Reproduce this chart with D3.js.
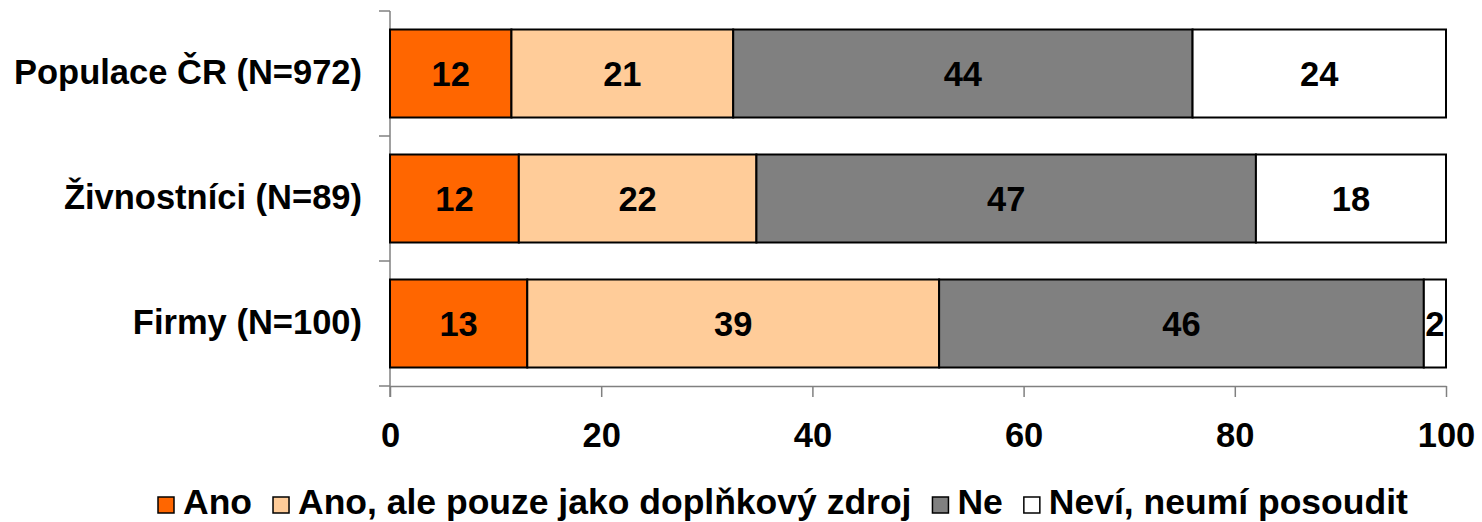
<!DOCTYPE html>
<html lang="cs">
<head>
  <meta charset="UTF-8" />
  <title>Ano / Ne</title>
  <script src="https://d3js.org/d3.v7.min.js"></script>
  <style>
    html, body {
      margin: 0;
      padding: 0;
      background: #fff;
    }
    svg text {
      font-family: "Liberation Sans", Arial, sans-serif;
      font-weight: bold;
      font-size: 34.5px;
      fill: #000;
    }
    svg text.leg {
      font-size: 35.5px;
    }
  </style>
</head>
<body>
<div id="chart"></div>
<script>
// categories (top to bottom)
const categories = ["Populace ČR (N=972)", "Živnostníci (N=89)", "Firmy (N=100)"];
const seriesNames = ["Ano", "Ano, ale pouze jako doplňkový zdroj", "Ne", "Neví, neumí posoudit"];
const seriesColors = ["#ff6600", "#ffcc99", "#808080", "#ffffff"];

// shares (%) as drawn, one array per series
const ano      = [11.5, 12.2, 13.0];
const anoAle   = [21.0, 22.5, 39.0];
const ne       = [43.5, 47.3, 45.9];
const nevi     = [24.0, 18.0, 2.1];

// printed labels
const anoLbl    = [12, 12, 13];
const anoAleLbl = [21, 22, 39];
const neLbl     = [44, 47, 46];
const neviLbl   = [24, 18, 2];

const xTicks = [0, 20, 40, 60, 80, 100];

const W = 1482, H = 522;
const svg = d3.select("#chart").append("svg")
  .attr("width", W).attr("height", H);

const x = d3.scaleLinear().domain([0, 100]).range([390, 1446]);
const y = d3.scaleBand().domain(categories).range([11, 386])
  .paddingInner(0.296).paddingOuter(0.148);

const values = [ano, anoAle, ne, nevi];
const labels = [anoLbl, anoAleLbl, neLbl, neviLbl];

const rows = categories.map((c, i) => {
  const r = { cat: c };
  seriesNames.forEach((s, j) => { r[s] = values[j][i]; });
  return r;
});
const stack = d3.stack().keys(seriesNames)(rows);

// axes lines
const axisColor = "#808080";
const step = y.step();
const bounds = categories.map(c => y(c) - (step - y.bandwidth()) / 2).concat([386]);

svg.append("line")
  .attr("x1", 390).attr("x2", 390).attr("y1", bounds[0]).attr("y2", 397)
  .attr("stroke", axisColor).attr("stroke-width", 1.5);
svg.selectAll(".ytick").data(bounds).join("line")
  .attr("class", "ytick")
  .attr("x1", 379).attr("x2", 390)
  .attr("y1", d => d).attr("y2", d => d)
  .attr("stroke", axisColor).attr("stroke-width", 1.5);

const xAxis = svg.append("g")
  .attr("transform", "translate(0,386)")
  .call(d3.axisBottom(x).tickValues(xTicks).tickSize(11).tickSizeOuter(0).tickPadding(26));
xAxis.select(".domain").attr("stroke", axisColor).attr("stroke-width", 1.5);
xAxis.selectAll(".tick line").attr("stroke", axisColor).attr("stroke-width", 1.5);
xAxis.selectAll("text")
  .style("font-family", "'Liberation Sans', Arial, sans-serif")
  .style("font-weight", "bold").style("font-size", "34.5px").attr("fill", "#000");

// bars
const layers = svg.selectAll(".layer").data(stack).join("g")
  .attr("class", "layer")
  .attr("fill", (d, i) => seriesColors[i]);

layers.selectAll("rect").data(d => d).join("rect")
  .attr("x", d => x(d[0]))
  .attr("y", d => y(d.data.cat))
  .attr("width", d => x(d[1]) - x(d[0]))
  .attr("height", y.bandwidth())
  .attr("stroke", "#000")
  .attr("stroke-width", 2);

layers.each(function (layer, j) {
  d3.select(this).selectAll("text").data(layer).join("text")
    .attr("x", d => (x(d[0]) + x(d[1])) / 2)
    .attr("y", d => y(d.data.cat) + y.bandwidth() / 2)
    .attr("dy", "0.36em")
    .attr("text-anchor", "middle")
    .text((d, i) => labels[j][i]);
});

// category labels
svg.selectAll(".cat").data(categories).join("text")
  .attr("class", "cat")
  .attr("x", 362)
  .attr("y", d => y(d) + y.bandwidth() / 2)
  .attr("dy", "0.3em")
  .attr("text-anchor", "end")
  .text(d => d);

// legend
const legend = svg.append("g").attr("transform", "translate(158,0)");
let lx = 0;
seriesNames.forEach((s, i) => {
  legend.append("rect")
    .attr("x", lx).attr("y", 497)
    .attr("width", 16).attr("height", 16)
    .attr("fill", seriesColors[i])
    .attr("stroke", "#000").attr("stroke-width", 1.5);
  const t = legend.append("text")
    .attr("class", "leg")
    .attr("x", lx + 25).attr("y", 514)
    .text(s);
  lx += 25 + t.node().getComputedTextLength() + 21;
});
</script>
</body>
</html>
